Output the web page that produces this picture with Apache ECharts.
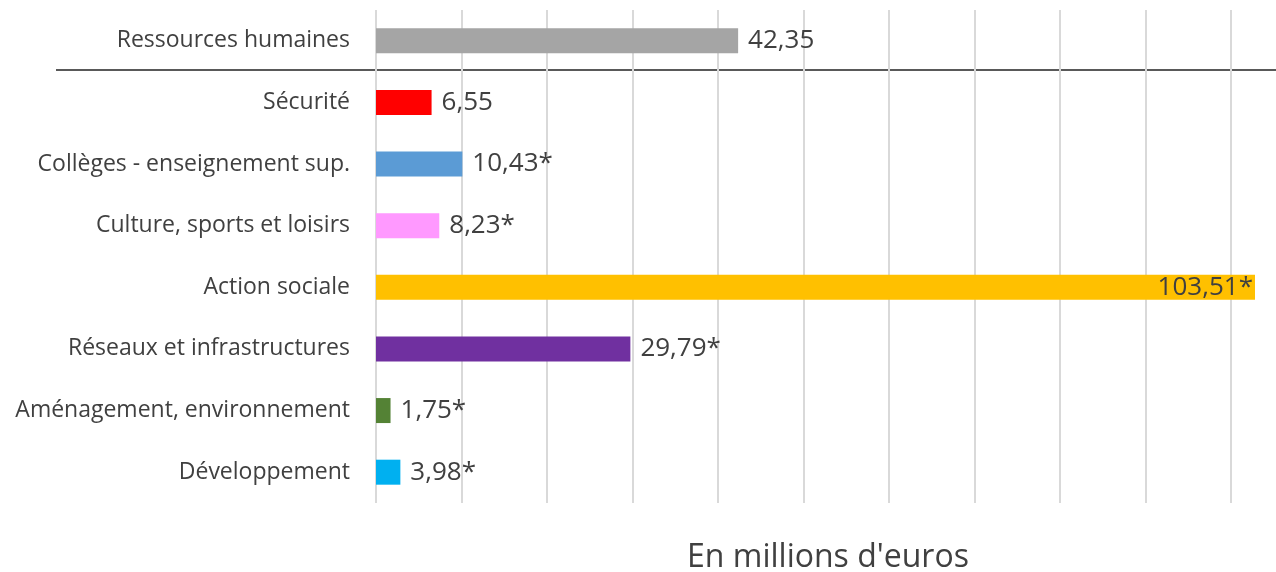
<!DOCTYPE html>
<html>
<head>
<meta charset="utf-8">
<script src="https://cdn.jsdelivr.net/npm/echarts@6/dist/echarts.min.js"></script>
<style>
  html, body { margin: 0; padding: 0; background: #fff; }
  #chart { width: 1276px; height: 572px; }
</style>
</head>
<body>
<div id="chart"></div>
<script>
// catégories, de haut en bas
const categories = [
  'Ressources humaines',
  'Sécurité',
  'Collèges - enseignement sup.',
  'Culture, sports et loisirs',
  'Action sociale',
  'Réseaux et infrastructures',
  'Aménagement, environnement',
  'Développement'
]
// longueurs des barres telles que dessinées
const values = [42.35, 6.5, 10.1, 7.4, 103.51, 29.75, 1.7, 2.85]
// étiquettes affichées
const valueLabels = ['42,35', '6,55', '10,43*', '8,23*', '103,51*', '29,79*', '1,75*', '3,98*']
const barColors = ['#a5a5a5', '#ff0000', '#5b9bd5', '#ff99ff', '#ffc000', '#7030a0', '#548235', '#00b0f0']
const unitTitle = "En millions d'euros"

const font = '"Open Sans", sans-serif'
const chart = echarts.init(document.getElementById('chart'))

const data = values.map((v, i) => {
  const item = {
    value: v,
    itemStyle: { color: barColors[i] }
  }
  // la barre "Action sociale" dépasse : étiquette à l'intérieur
  if (i === 4) {
    item.label = { position: 'insideRight', distance: 2 }
  }
  return item
})

const option = {
  animation: false,
  title: {
    text: unitTitle,
    left: 823,
    top: 537,
    textAlign: 'center',
    textStyle: { fontFamily: font, fontSize: 32, fontWeight: 'normal', color: '#404040' }
  },
  grid: {
    left: 376,
    right: 21,
    top: 10,
    bottom: 69,
    outerBoundsMode: 'none'
  },
  xAxis: {
    type: 'value',
    min: 0,
    max: 102.8,
    interval: 10,
    axisLabel: { show: false },
    axisLine: { show: false },
    axisTick: { show: false },
    splitLine: {
      showMaxLine: false,
      lineStyle: { color: '#d9d9d9', width: 2 }
    }
  },
  yAxis: {
    type: 'category',
    data: categories,
    inverse: true,
    axisLine: { show: false },
    axisTick: { show: false },
    axisLabel: {
      margin: 26,
      fontFamily: font,
      fontSize: 23,
      color: '#404040'
    }
  },
  series: [
    {
      type: 'bar',
      data: data,
      barWidth: 25,
      label: {
        show: true,
        position: 'right',
        distance: 10,
        fontFamily: font,
        fontSize: 26,
        color: '#404040',
        formatter: p => valueLabels[p.dataIndex]
      }
    }
  ],
  graphic: [
    {
      // séparateur sous "Ressources humaines"
      type: 'line',
      shape: { x1: 56, y1: 70, x2: 1276, y2: 70 },
      style: { stroke: '#595959', lineWidth: 2 }
    }
  ]
}

chart.setOption(option)
</script>
</body>
</html>
